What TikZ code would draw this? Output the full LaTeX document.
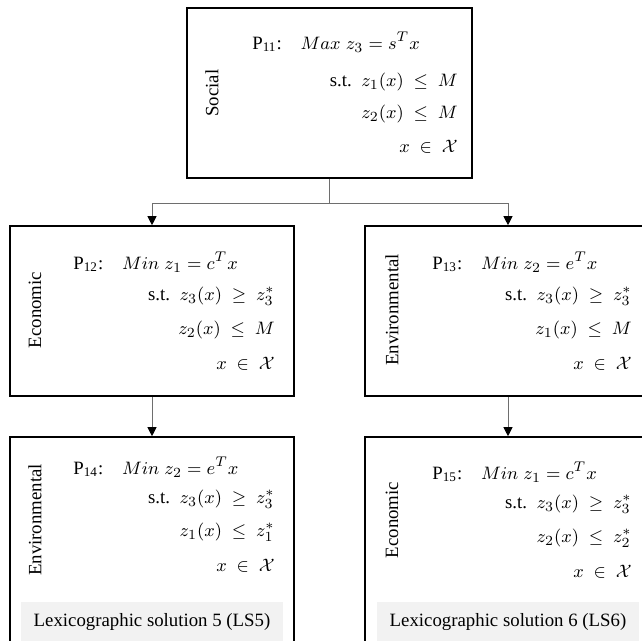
\documentclass[tikz,border=0pt]{standalone}
\usepackage{amsmath}
\usepackage{amssymb}
\usepackage{fontspec}
\setmainfont{Liberation Serif}
\usepackage{tikz}
\usetikzlibrary{arrows.meta}

\definecolor{lsgray}{HTML}{F2F2F2}
\definecolor{linkgray}{HTML}{6E6E6E}

\tikzset{
    probbox/.style={draw=black, line width=0.8pt, rectangle, inner sep=0pt},
    link/.style={draw=linkgray, line width=0.5pt, -{Triangle[width=4.5pt, length=4.5pt, black]}},
    goal/.style={rotate=90, inner sep=0pt},
    title/.style={anchor=west, inner sep=0pt},
    cons/.style={anchor=east, inner sep=0pt},
    lsbox/.style={fill=lsgray, inner sep=0pt, minimum width=131pt, minimum height=20pt}
}

\begin{document}
\begin{tikzpicture}[x=0.5pt, y=-0.5pt, font=\fontsize{9.4pt}{11pt}\selectfont]
    \useasboundingbox (0,0) rectangle (642,641);
    \clip (0,0) rectangle (642,641);

    % Kadrai
    \node[probbox, minimum width=142.5pt, minimum height=85pt] (p11) at (329.5,93) {};
    \node[probbox, minimum width=142pt, minimum height=85pt] (p12) at (152,311) {};
    \node[probbox, minimum width=143pt, minimum height=85pt] (p13) at (508,311) {};
    \node[probbox, minimum width=142pt, minimum height=115pt] (p14) at (152,552) {};
    \node[probbox, minimum width=143pt, minimum height=115pt] (p15) at (508,552) {};

    % Jungtys
    \draw[link] (p11.south) -- ++(0,25) -| (p12.north);
    \draw[link] (p11.south) -- ++(0,25) -| (p13.north);
    \draw[link] (p12) -- (p14);
    \draw[link] (p13) -- (p15);

    % Tikslai
    \foreach \n/\x/\y/\txt in {g11/212/93/Social, g12/35/310/Economic,
                               g13/392/310/Environmental, g14/35/520/Environmental,
                               g15/392/520/Economic} {
        \node[goal] (\n) at (\x,\y) {\txt};
    }

    % P11
    \node[title] (t11) at (252,42) {P\textsubscript{11}:\quad $Max\; z_3 = s^T x$};
    \node[cons] (c11a) at (458,82) {s.t.\ \ $z_1(x)\ \le\ M$};
    \node[cons] (c11b) at (458,114) {$z_2(x)\ \le\ M$};
    \node[cons] (c11c) at (458,147) {$x\ \in\ \mathcal{X}$};

    % P12
    \node[title] (t12) at (73,262) {P\textsubscript{12}:\quad $Min\; z_1 = c^T x$};
    \node[cons] (c12a) at (275,296) {s.t.\ \ $z_3(x)\ \ge\ z_3^*$};
    \node[cons] (c12b) at (275,330) {$z_2(x)\ \le\ M$};
    \node[cons] (c12c) at (275,364) {$x\ \in\ \mathcal{X}$};

    % P13
    \node[title] (t13) at (432,262) {P\textsubscript{13}:\quad $Min\; z_2 = e^T x$};
    \node[cons] (c13a) at (632,296) {s.t.\ \ $z_3(x)\ \ge\ z_3^*$};
    \node[cons] (c13b) at (632,330) {$z_1(x)\ \le\ M$};
    \node[cons] (c13c) at (632,364) {$x\ \in\ \mathcal{X}$};

    % P14
    \node[title] (t14) at (73,467) {P\textsubscript{14}:\quad $Min\; z_2 = e^T x$};
    \node[cons] (c14a) at (275,499) {s.t.\ \ $z_3(x)\ \ge\ z_3^*$};
    \node[cons] (c14b) at (275,532) {$z_1(x)\ \le\ z_1^*$};
    \node[cons] (c14c) at (275,566) {$x\ \in\ \mathcal{X}$};
    \node[lsbox] (ls5) at (152,622) {Lexicographic solution 5 (LS5)};

    % P15
    \node[title] (t15) at (432,472) {P\textsubscript{15}:\quad $Min\; z_1 = c^T x$};
    \node[cons] (c15a) at (632,504) {s.t.\ \ $z_3(x)\ \ge\ z_3^*$};
    \node[cons] (c15b) at (632,538) {$z_2(x)\ \le\ z_2^*$};
    \node[cons] (c15c) at (632,572) {$x\ \in\ \mathcal{X}$};
    \node[lsbox] (ls6) at (508,622) {Lexicographic solution 6 (LS6)};
\end{tikzpicture}
\end{document}
